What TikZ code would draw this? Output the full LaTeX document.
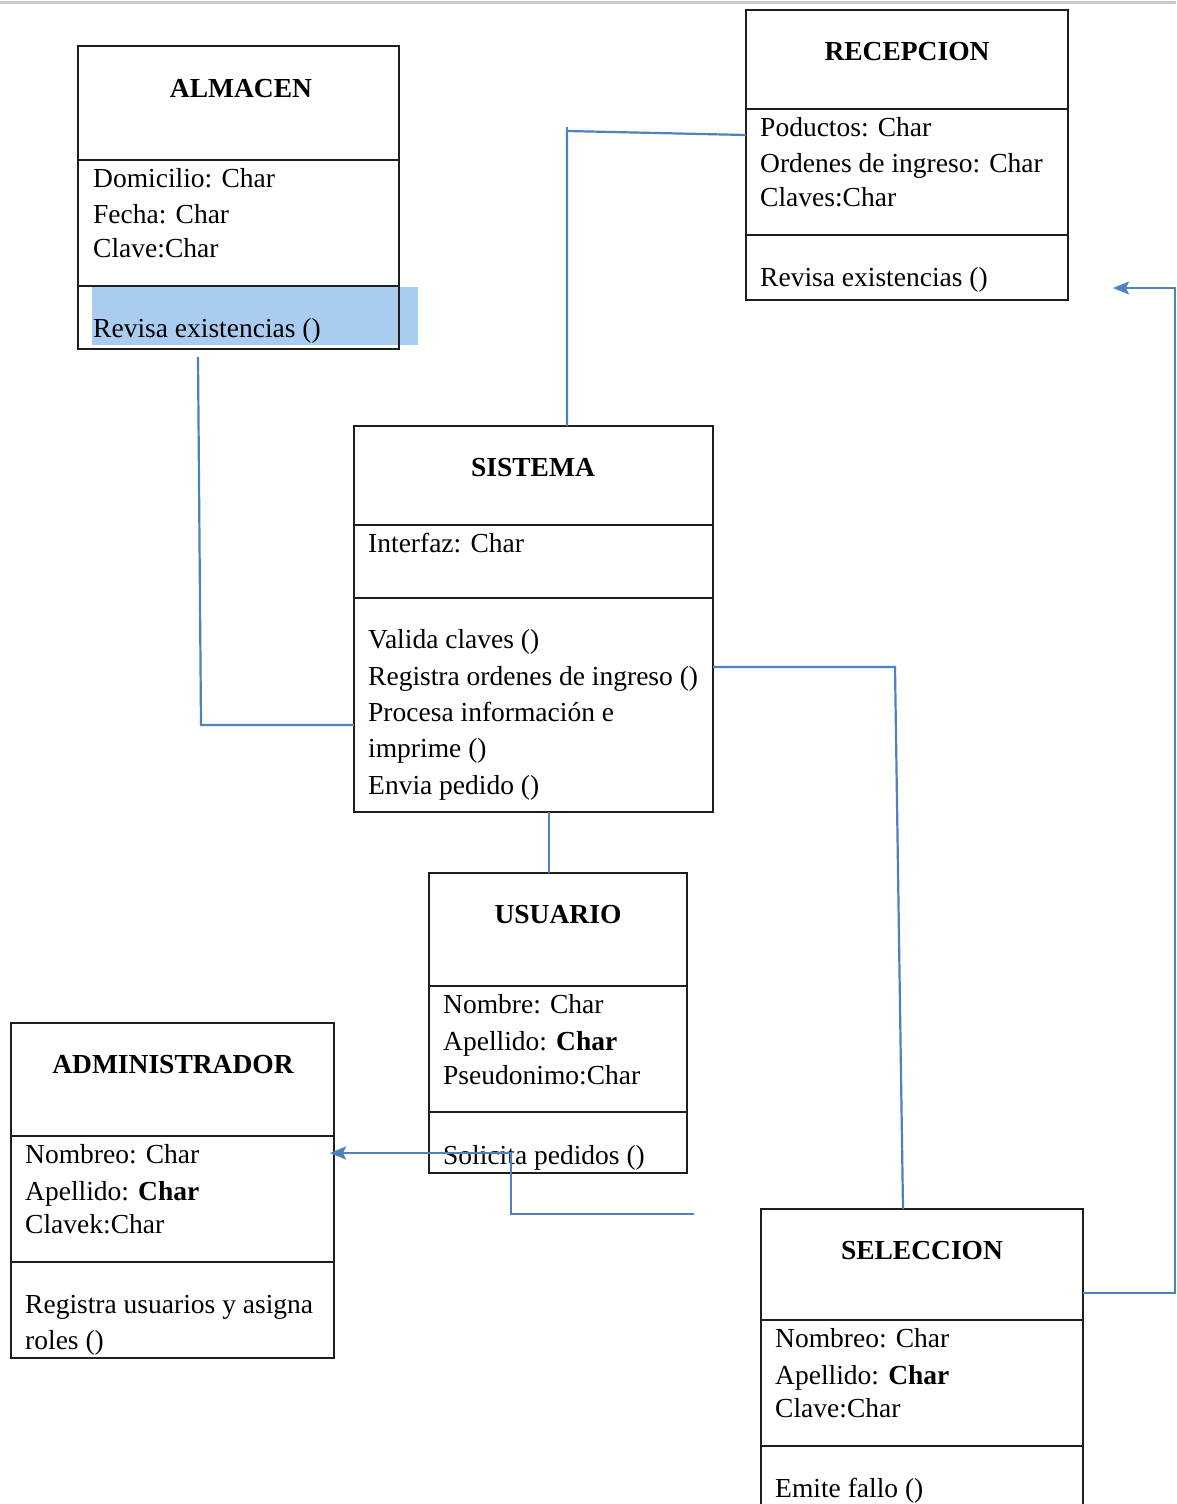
\documentclass[tikz,border=0pt]{standalone}
\usepackage{fontspec}
\setmainfont{Liberation Serif}
\usetikzlibrary{arrows.meta}
\newcommand\diafont{\fontsize{27.5}{36}\selectfont}
\definecolor{framecol}{RGB}{30,30,30}
\definecolor{linkcol}{RGB}{79,129,189}
\definecolor{markcol}{RGB}{170,204,240}
\definecolor{rulecol}{RGB}{200,202,210}
\tikzset{
  classbox/.style={draw=framecol, line width=2pt, rectangle, anchor=north west,
    inner sep=0pt, outer sep=0pt},
  divider/.style={draw=framecol, line width=2pt},
  title/.style={anchor=base, inner sep=0pt, font=\diafont\bfseries, text=black},
  member/.style={anchor=base west, inner sep=0pt, font=\diafont, text=black},
  conn/.style={draw=linkcol, line width=2.2pt},
  tip/.style={-{Stealth[length=16pt,width=13pt,inset=3pt]}},
}
\begin{document}
\begin{tikzpicture}[x=1pt,y=-1pt]
\useasboundingbox (0,0) rectangle (1176,1504);
\clip (0,0) rectangle (1176,1504);
\fill[white] (0,0) rectangle (1176,1504);
\draw[rulecol, line width=3pt] (0,3) -- (1176,3);

% highlighted method line of ALMACEN
\fill[markcol] (92,287) rectangle (418,345);

% class frames
\node[classbox, minimum width=321pt, minimum height=303pt] (almacen) at (78,46) {};
\node[classbox, minimum width=322pt, minimum height=290pt] (recepcion) at (746,10) {};
\node[classbox, minimum width=359pt, minimum height=386pt] (sistema) at (354,426) {};
\node[classbox, minimum width=258pt, minimum height=300pt] (usuario) at (429,873) {};
\node[classbox, minimum width=323pt, minimum height=335pt] (administrador) at (11,1023) {};
\node[classbox, minimum width=322pt, minimum height=340pt] (seleccion) at (761,1209) {};

% compartment dividers
\draw[divider] (almacen.west |- 0,160) -- (almacen.east |- 0,160);
\draw[divider] (almacen.west |- 0,286) -- (almacen.east |- 0,286);
\draw[divider] (recepcion.west |- 0,109) -- (recepcion.east |- 0,109);
\draw[divider] (recepcion.west |- 0,235) -- (recepcion.east |- 0,235);
\draw[divider] (sistema.west |- 0,525) -- (sistema.east |- 0,525);
\draw[divider] (sistema.west |- 0,598) -- (sistema.east |- 0,598);
\draw[divider] (usuario.west |- 0,986) -- (usuario.east |- 0,986);
\draw[divider] (usuario.west |- 0,1112) -- (usuario.east |- 0,1112);
\draw[divider] (administrador.west |- 0,1136) -- (administrador.east |- 0,1136);
\draw[divider] (administrador.west |- 0,1262) -- (administrador.east |- 0,1262);
\draw[divider] (seleccion.west |- 0,1320) -- (seleccion.east |- 0,1320);
\draw[divider] (seleccion.west |- 0,1446) -- (seleccion.east |- 0,1446);

% ALMACEN
\node[title] (almacenT) at (241,97) {ALMACEN};
\node[member] (almacenA1) at (93,187) {Domicilio: Char};
\node[member] (almacenA2) at (93,223) {Fecha: Char};
\node[member] (almacenA3) at (93,257) {Clave:Char};
\node[member] (almacenM1) at (93,337) {Revisa existencias ()};

% RECEPCION
\node[title] (recepcionT) at (907,61) {RECEPCION};
\node[member] (recepcionA1) at (760,136) {Poductos: Char};
\node[member] (recepcionA2) at (760,172) {Ordenes de ingreso: Char};
\node[member] (recepcionA3) at (760,206) {Claves:Char};
\node[member] (recepcionM1) at (760,286) {Revisa existencias ()};

% SISTEMA
\node[title] (sistemaT) at (533,476) {SISTEMA};
\node[member] (sistemaA1) at (368,552) {Interfaz: Char};
\node[member] (sistemaM1) at (368,648) {Valida claves ()};
\node[member] (sistemaM2) at (368,685) {Registra ordenes de ingreso ()};
\node[member] (sistemaM3) at (368,721) {Procesa información e};
\node[member] (sistemaM4) at (368,757) {imprime ()};
\node[member] (sistemaM5) at (368,794) {Envia pedido ()};

% USUARIO
\node[title] (usuarioT) at (558,923) {USUARIO};
\node[member] (usuarioA1) at (443,1013) {Nombre: Char};
\node[member] (usuarioA2) at (443,1050) {Apellido: \textbf{Char}};
\node[member] (usuarioA3) at (443,1084) {Pseudonimo:Char};
\node[member] (usuarioM1) at (443,1164) {Solicita pedidos ()};

% ADMINISTRADOR
\node[title] (adminT) at (173,1073) {ADMINISTRADOR};
\node[member] (adminA1) at (25,1163) {Nombreo: Char};
\node[member] (adminA2) at (25,1200) {Apellido: \textbf{Char}};
\node[member] (adminA3) at (25,1233) {Clavek:Char};
\node[member] (adminM1) at (25,1313) {Registra usuarios y asigna};
\node[member] (adminM2) at (25,1349) {roles ()};

% SELECCION
\node[title] (seleccionT) at (922,1259) {SELECCION};
\node[member] (seleccionA1) at (775,1347) {Nombreo: Char};
\node[member] (seleccionA2) at (775,1384) {Apellido: \textbf{Char}};
\node[member] (seleccionA3) at (775,1417) {Clave:Char};
\node[member] (seleccionM1) at (775,1497) {Emite fallo ()};

% connectors
\coordinate (rsBend) at (567,131);
\draw[conn] ([yshift=-125pt]recepcion.north west) -- (rsBend) -- (rsBend |- sistema.north);
\draw[conn] (567,127) -- (rsBend);

\coordinate (asTop) at (198,357);
\coordinate (asBend) at (201,725);
\draw[conn] (asTop) -- (asBend) -- (asBend -| sistema.west);

\coordinate (ssBend) at (895,667);
\draw[conn] (ssBend -| sistema.east) -- (ssBend) -- ([xshift=142pt]seleccion.north west);

\draw[conn] ([xshift=195pt]sistema.south west) -- ([xshift=120pt]usuario.north west);

\coordinate (uaEnd) at (694,1214);
\coordinate (uaLow) at (511,1214);
\coordinate (uaHigh) at (511,1153);
\draw[conn, tip] (uaEnd) -- (uaLow) -- (uaHigh) -- ([xshift=-4pt]uaHigh -| administrador.east);

\coordinate (srLow) at (1175,1293);
\coordinate (srHigh) at (1175,288);
\coordinate (srEnd) at (1113,288);
\draw[conn, tip] (srLow -| seleccion.east) -- (srLow) -- (srHigh) -- (srEnd);
\end{tikzpicture}
\end{document}
